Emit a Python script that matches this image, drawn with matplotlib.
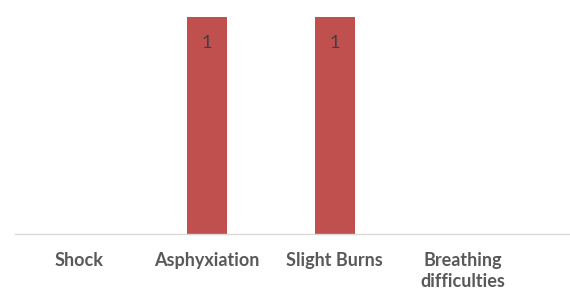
import matplotlib
matplotlib.use("Agg")
import matplotlib.pyplot as plt

categories = ["Shock", "Asphyxiation", "Slight Burns", "Breathing\ndifficulties"]
values = [0, 1, 1, 0]

BAR_COLOR = "#C0504D"

fig = plt.figure(figsize=(5.7, 2.93), dpi=100)
ax = fig.add_axes([15 / 570, 1 - 234 / 293, 555 / 570, 217 / 293])

x = list(range(len(categories)))
bars = ax.bar(x, values, width=40 / 128, color=BAR_COLOR, zorder=2)
for b, v in zip(bars, values):
    if v > 0:
        ax.text(b.get_x() + b.get_width() / 2, v - 0.12, f"{v}", ha="center", va="center",
                color="#404040", fontsize=13, family="Lato")

ax.set_xlim(-0.5, 3.84)
ax.set_ylim(0, 1)
ax.set_yticks([])
ax.set_xticks(x)
ax.set_xticklabels(categories, fontsize=13, fontweight="bold", color="#595959",
                   family="Lato", linespacing=1.3, va="top")
ax.tick_params(axis="x", length=0, pad=13)
for s in ["top", "right", "left"]:
    ax.spines[s].set_visible(False)
ax.spines["bottom"].set_color("#D9D9D9")
ax.spines["bottom"].set_linewidth(1.0)

fig.savefig("out.png", dpi=100)
